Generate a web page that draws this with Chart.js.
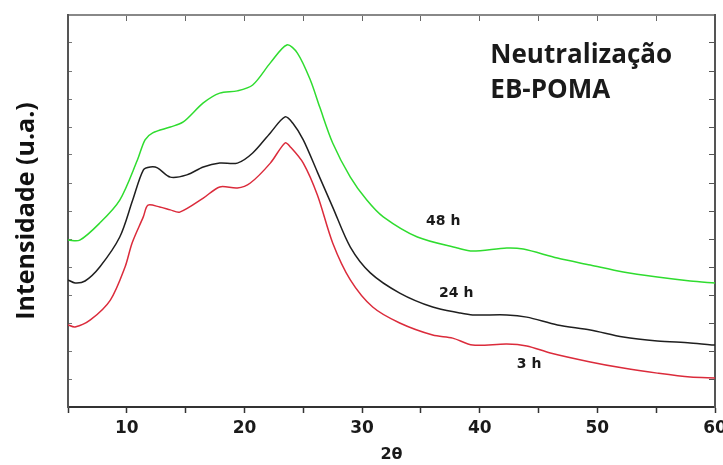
<!DOCTYPE html>
<html lang="pt">

<head>
    <meta charset="UTF-8">
    <script src="https://cdn.jsdelivr.net/npm/chart.js"></script>
    <title>Neutralização EB-POMA</title>
    <style>
        body { margin: 0; background: #fff; }
        #wrap { width: 723px; height: 465px; }
    </style>
</head>

<body>
    <div id="wrap">
        <canvas id="xrdChart"></canvas>
    </div>
    <script>
        // 2θ readings and intensities (arbitrary units)
        const theta3h = [5, 5.6, 6.9, 8.6, 9.85, 10.45, 11.4, 11.8, 12.8, 13.7, 14.5, 16.5, 17.9, 19.4, 20.5, 22.2, 23.45, 23.9, 25.0, 26.2, 27.5, 29.0, 30.9, 33.2, 36.0, 37.7, 39.4, 42.3, 44.0, 46.0, 49.4, 52.2, 55.1, 57.9, 60];
        const int3h = [2.93, 2.86, 3.11, 3.82, 5.0, 5.86, 6.79, 7.21, 7.14, 7.04, 6.96, 7.46, 7.86, 7.82, 8.0, 8.71, 9.43, 9.29, 8.71, 7.57, 5.86, 4.54, 3.57, 3.0, 2.57, 2.46, 2.21, 2.25, 2.18, 1.93, 1.61, 1.39, 1.21, 1.07, 1.04];

        const theta24h = [5, 5.6, 6.45, 7.7, 9.4, 10.5, 11.4, 12.0, 12.6, 13.7, 15.1, 16.5, 17.9, 19.4, 20.7, 22.2, 23.45, 24.1, 25.0, 26.2, 27.5, 29.0, 30.7, 33.2, 36.0, 38.3, 39.4, 42.3, 44.0, 46.6, 49.4, 52.2, 55.1, 57.9, 60];
        const int24h = [4.54, 4.43, 4.5, 5.0, 6.07, 7.39, 8.46, 8.57, 8.54, 8.21, 8.29, 8.57, 8.71, 8.71, 9.07, 9.79, 10.36, 10.14, 9.54, 8.39, 7.14, 5.71, 4.79, 4.07, 3.57, 3.36, 3.29, 3.29, 3.21, 2.93, 2.75, 2.5, 2.36, 2.29, 2.21];

        const theta48h = [5, 6.0, 7.7, 9.4, 10.9, 11.55, 12.2, 13.7, 14.8, 16.5, 17.9, 19.4, 20.7, 22.2, 23.6, 24.5, 25.6, 26.4, 27.5, 29.0, 30.4, 31.8, 34.7, 38.1, 39.4, 42.3, 43.7, 46.6, 49.4, 52.2, 55.1, 57.9, 60];
        const int48h = [5.96, 5.96, 6.57, 7.39, 8.82, 9.54, 9.79, 10.0, 10.18, 10.86, 11.21, 11.29, 11.5, 12.29, 12.93, 12.64, 11.68, 10.71, 9.43, 8.21, 7.39, 6.79, 6.07, 5.68, 5.57, 5.68, 5.64, 5.32, 5.07, 4.82, 4.64, 4.5, 4.43];

        const curveLabels = ["3 h", "24 h", "48 h"];
        const labelTheta = [44.2, 38.0, 36.9];
        const labelInt = [1.54, 4.07, 6.64];

        const titleLines = ["Neutralização", "EB-POMA"];
        const titleTheta = 40.9;
        const titleInt = [12.54, 11.29];

        const toPoints = (xs, ys) => xs.map((x, i) => ({ x: x, y: ys[i] }));

        // curve labels and the caption, placed through the chart scales
        const annotations = {
            id: "annotations",
            afterDatasetsDraw(chart) {
                const { ctx, scales: { x, y } } = chart;
                ctx.save();
                ctx.fillStyle = "#1a1a1a";
                ctx.textAlign = "center";
                ctx.textBaseline = "middle";
                ctx.font = "bold 14px 'DejaVu Sans'";
                curveLabels.forEach((t, i) => {
                    ctx.fillText(t, x.getPixelForValue(labelTheta[i]), y.getPixelForValue(labelInt[i]));
                });
                ctx.textAlign = "left";
                ctx.font = "bold 26px 'Open Sans'";
                titleLines.forEach((t, i) => {
                    ctx.fillText(t, x.getPixelForValue(titleTheta), y.getPixelForValue(titleInt[i]));
                });
                ctx.restore();
            }
        };

        const frameColor = "#555";

        new Chart(document.getElementById("xrdChart"), {
            type: "line",
            data: {
                datasets: [{
                    label: "48 h",
                    data: toPoints(theta48h, int48h),
                    borderColor: "#2fdc2f",
                    borderWidth: 1.5,
                    pointRadius: 0,
                    tension: 0.3
                }, {
                    label: "24 h",
                    data: toPoints(theta24h, int24h),
                    borderColor: "#1f1f1f",
                    borderWidth: 1.5,
                    pointRadius: 0,
                    tension: 0.3
                }, {
                    label: "3 h",
                    data: toPoints(theta3h, int3h),
                    borderColor: "#db2b3b",
                    borderWidth: 1.5,
                    pointRadius: 0,
                    tension: 0.3
                }]
            },
            options: {
                responsive: true,
                maintainAspectRatio: false,
                animation: false,
                layout: { padding: { top: 15, right: 8, left: 0, bottom: 0 } },
                plugins: {
                    legend: { display: false },
                    tooltip: { enabled: false }
                },
                scales: {
                    x: {
                        type: "linear",
                        position: "bottom",
                        min: 5,
                        max: 60,
                        border: { color: "#333", width: 2 },
                        grid: { drawOnChartArea: false, tickLength: 6, color: "#333", tickWidth: 1.5 },
                        ticks: {
                            stepSize: 5,
                            autoSkip: false,
                            maxRotation: 0,
                            padding: 5,
                            color: "#1a1a1a",
                            font: { family: "'DejaVu Sans'", size: 17, weight: "bold" },
                            callback: v => (v % 10 === 0 && v > 5 ? v : "")
                        },
                        title: {
                            display: true,
                            text: "2θ",
                            color: "#1a1a1a",
                            padding: { top: 0, bottom: 1 },
                            font: { family: "'DejaVu Sans'", size: 16, weight: "bold" }
                        },
                        afterFit: s => { s.height = 58; s.paddingLeft = 0; s.paddingRight = 0; }
                    },
                    xTop: {
                        type: "linear",
                        position: "top",
                        min: 5,
                        max: 60,
                        border: { color: "#888", width: 2 },
                        grid: { drawOnChartArea: false, tickLength: -6, color: "#666" },
                        ticks: { display: false, stepSize: 5 },
                        afterFit: s => { s.height = 0; s.paddingLeft = 0; s.paddingRight = 0; }
                    },
                    y: {
                        type: "linear",
                        position: "left",
                        min: 0,
                        max: 14,
                        border: { color: frameColor, width: 2 },
                        grid: { drawOnChartArea: false, tickLength: -4, color: "#777" },
                        ticks: { display: false, stepSize: 1 },
                        title: {
                            display: true,
                            text: "Intensidade (u.a.)",
                            color: "#111",
                            padding: { top: 12, bottom: 0 },
                            font: { family: "'Open Sans'", size: 25, weight: "bold" }
                        },
                        afterFit: s => { s.width = 68; }
                    },
                    yRight: {
                        type: "linear",
                        position: "right",
                        min: 0,
                        max: 14,
                        border: { color: frameColor, width: 2 },
                        grid: { drawOnChartArea: false, tickLength: -6, color: "#555" },
                        ticks: { display: false, stepSize: 1 },
                        afterFit: s => { s.width = 0; }
                    }
                }
            },
            plugins: [annotations]
        });
    </script>
</body>

</html>
